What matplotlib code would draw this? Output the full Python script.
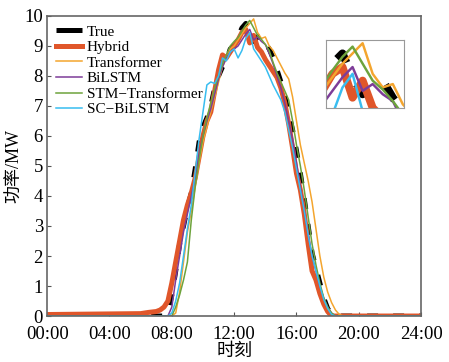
import matplotlib
matplotlib.use('Agg')
import matplotlib.pyplot as plt
import numpy as np

plt.rcParams['font.family'] = ['Liberation Serif', 'Noto Sans CJK SC']

# time of day in hours: night points, then 15-min steps 07:00-19:00, then midnight
hours = [0, 6.0, 6.5] + list(np.arange(7, 19.01, 0.25)) + [24]

true_p = [0, 0, 0,
          0, 0, 0, 0.1,
          0.7, 1.5, 2.4, 3.0,
          3.6, 4.1, 4.9, 5.8,
          6.3, 6.6, 7.0, 7.6,
          8.0, 8.3, 8.5, 8.9,
          9.0, 9.3, 9.6, 9.75,
          9.4, 9.15, 9.3, 9.35,
          9.1, 8.9, 8.6, 8.2,
          7.8, 7.3, 6.75, 6.2,
          5.5, 4.75, 3.9, 3.0,
          2.1, 1.6, 1.1, 0.6,
          0.25, 0.05, 0, 0,
          0, 0]
hybrid = [0.05, 0.08, 0.12,
          0.15, 0.2, 0.3, 0.5,
          1.1, 1.8, 2.5, 3.2,
          3.7, 4.1, 4.6, 5.3,
          6.0, 6.5, 6.8, 7.5,
          8.2, 8.7, 8.6, 8.8,
          9.0, 9.2, 9.45, 9.55,
          9.1, 9.35, 8.95, 8.8,
          8.55, 8.35, 8.15, 7.95,
          7.6, 7.1, 6.4, 5.6,
          4.75, 4.2, 3.4, 2.4,
          1.5, 1.2, 0.75, 0.4,
          0.15, 0, 0, 0,
          0, 0]
transformer = [0, 0, 0,
               0, 0, 0, 0,
               0, 0.1, 0.8, 1.8,
               2.8, 3.5, 4.3, 5.1,
               5.8, 6.3, 6.8, 7.3,
               7.8, 8.3, 8.6, 8.9,
               9.0, 9.2, 9.4, 9.6,
               9.75, 9.9, 9.45, 9.25,
               9.3, 9.0, 8.85, 8.6,
               8.35, 8.1, 7.9, 7.3,
               6.5, 5.7, 5.1, 4.5,
               3.8, 2.9, 2.0, 1.3,
               0.8, 0.45, 0.2, 0.05,
               0, 0]
bilstm = [0, 0, 0,
          0, 0, 0, 0,
          0.3, 1.2, 2.0, 2.8,
          3.4, 4.0, 4.6, 5.4,
          6.0, 6.5, 6.9, 7.4,
          7.9, 8.3, 8.6, 8.8,
          8.9, 9.0, 9.2, 9.4,
          9.55, 9.2, 9.3, 9.15,
          9.05, 8.75, 8.4, 8.0,
          7.6, 7.1, 6.5, 5.9,
          5.1, 4.3, 3.5, 2.7,
          2.0, 1.5, 1.0, 0.6,
          0.3, 0.1, 0, 0,
          0, 0]
stm_trans = [0, 0, 0,
             0, 0, 0, 0,
             0, 0.3, 0.7, 1.2,
             1.8, 3.2, 4.3, 5.2,
             6.0, 6.6, 7.1, 7.6,
             8.0, 8.4, 8.7, 9.0,
             9.15, 9.28, 9.5, 9.7,
             9.85, 9.6, 9.35, 9.22,
             9.05, 8.85, 8.45, 8.1,
             7.8, 7.5, 7.2, 6.5,
             5.7, 5.0, 4.2, 3.3,
             2.4, 1.7, 1.1, 0.6,
             0.3, 0.1, 0, 0,
             0, 0]
sc_bilstm = [0, 0, 0,
             0, 0, 0, 0,
             0.1, 0.5, 1.1, 2.0,
             2.9, 3.7, 4.8, 5.9,
             6.8, 7.7, 7.8, 7.75,
             8.0, 8.6, 8.5, 8.8,
             8.9, 8.6, 8.85, 9.25,
             9.45, 8.9, 8.7, 8.5,
             8.3, 8.0, 7.7, 7.45,
             7.2, 6.8, 6.2, 5.6,
             4.9, 4.2, 3.5, 2.7,
             2.0, 1.5, 1.0, 0.55,
             0.25, 0.05, 0, 0,
             0, 0]

names = ['True', 'Hybrid', 'Transformer', 'BiLSTM', 'STM\u2212Transformer', 'SC\u2212BiLSTM']
series = [true_p, hybrid, transformer, bilstm, stm_trans, sc_bilstm]
colors = ['black', '#E0562A', '#F4A52E', '#7D3C98', '#6DA33C', '#38BDF0']
widths = [3.6, 3.6, 1.1, 1.1, 1.1, 1.1]

tick_pos = [0, 4, 8, 12, 16, 20, 24]
tick_lab = ['00:00', '04:00', '08:00', '12:00', '16:00', '20:00', '24:00']

fig = plt.figure(figsize=(4.49, 3.62), dpi=100)
ax = fig.add_axes([0.105, 0.127, 0.833, 0.829])

def draw(a, scale=1.0):
    for name, y, c, w in zip(names, series, colors, widths):
        if name == 'True':
            a.plot(hours, y, color=c, lw=w * scale, dashes=(2.2, 3.0), label=name,
                   solid_capstyle='butt', dash_capstyle='butt')
        else:
            a.plot(hours, y, color=c, lw=w * scale, label=name)

draw(ax)
ax.set_xlim(0, 24)
ax.set_ylim(0, 10)
ax.set_xticks(tick_pos)
ax.set_xticklabels(tick_lab)
ax.set_yticks(range(0, 11))
ax.tick_params(direction='in', length=3, labelsize=13.5, color='#555555')
ax.tick_params(axis='x', pad=7.5)
ax.tick_params(axis='y', pad=3)
for s in ax.spines.values():
    s.set_color('#666666')
    s.set_linewidth(1.2)
ax.set_xlabel('时刻', fontsize=13, labelpad=0)
ax.set_ylabel('功率/MW', fontsize=13, labelpad=1)

leg = ax.legend(loc='upper left', frameon=False, fontsize=11, handlelength=1.7,
                handletextpad=0.3, labelspacing=0.12, borderaxespad=0.2,
                bbox_to_anchor=(0.0, 1.0))
leg.get_lines()[0].set_linestyle('-')

# zoomed inset around the noon peak
axi = fig.add_axes([0.726, 0.702, 0.174, 0.188])
draw(axi, scale=1.6)
axi.set_xlim(12.34, 14.28)
axi.set_ylim(8.95, 9.95)
axi.set_xticks([])
axi.set_yticks([])
for s in axi.spines.values():
    s.set_color('#999999')
    s.set_linewidth(0.8)

fig.savefig('out.png', dpi=100)
